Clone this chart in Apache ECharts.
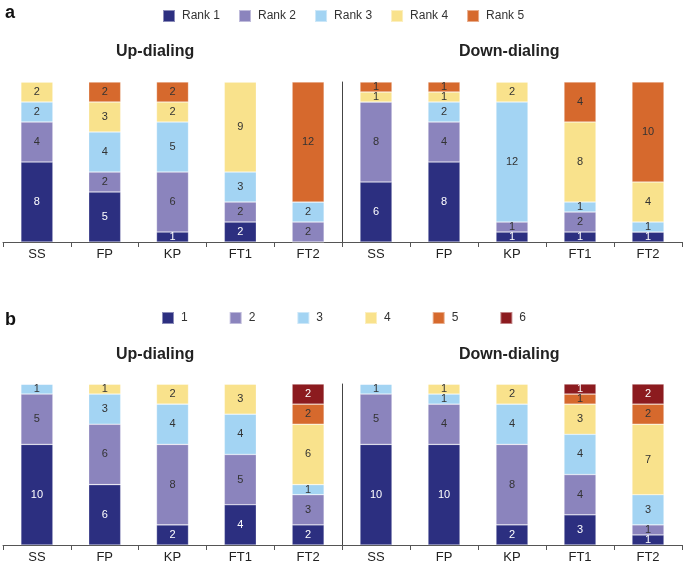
<!DOCTYPE html>
<html>
<head>
<meta charset="utf-8">
<script src="https://cdn.jsdelivr.net/npm/echarts@6/dist/echarts.min.js"></script>
<style>
  html, body { margin: 0; padding: 0; background: #fff; }
  #chart { width: 685px; height: 564px; }
</style>
</head>
<body>
<div id="chart"></div>
<script>
var categories = ['SS', 'FP', 'KP', 'FT1', 'FT2'];
var namesA = ['Rank 1', 'Rank 2', 'Rank 3', 'Rank 4', 'Rank 5'];
var namesB = ['1', '2', '3', '4', '5', '6'];
var colors = ['#2c2f80', '#8b84bd', '#a3d4f3', '#f9e28c', '#d6692d', '#8c1b1f'];
var labelColors = ['#fff', '#333', '#333', '#333', '#333', '#fff'];

// rows = rank, columns = categories
var upA = [
    [8, 5, 1, 2, 0],
    [4, 2, 6, 2, 2],
    [2, 4, 5, 3, 2],
    [2, 3, 2, 9, 0],
    [0, 2, 2, 0, 12]
];
var downA = [
    [6, 8, 1, 1, 1],
    [8, 4, 1, 2, 0],
    [0, 2, 12, 1, 1],
    [1, 1, 2, 8, 4],
    [1, 1, 0, 4, 10]
];
var upB = [
    [10, 6, 2, 4, 2],
    [5, 6, 8, 5, 3],
    [1, 3, 4, 4, 1],
    [0, 1, 2, 3, 6],
    [0, 0, 0, 0, 2],
    [0, 0, 0, 0, 2]
];
var downB = [
    [10, 10, 2, 3, 1],
    [5, 4, 8, 4, 1],
    [1, 1, 4, 4, 3],
    [0, 1, 2, 3, 7],
    [0, 0, 0, 1, 2],
    [0, 0, 0, 1, 2]
];

var font = "'Liberation Sans', Arial, Helvetica, sans-serif";

var grids = [
    { left: 3, width: 339, top: 82, height: 160 },
    { left: 342, width: 340, top: 82, height: 160 },
    { left: 3, width: 339, top: 384, height: 161 },
    { left: 342, width: 340, top: 384, height: 161 }
];

var xAxes = [], yAxes = [], series = [];
grids.forEach(function(g, i) {
    xAxes.push({
        type: 'category', gridIndex: i, data: categories,
        axisLine: { lineStyle: { color: '#555', width: 1 } },
        axisTick: { show: true, length: 5, lineStyle: { color: '#555', width: 1 } },
        axisLabel: { color: '#222', fontSize: 13, fontFamily: font, margin: 6 }
    });
    yAxes.push({
        type: 'value', gridIndex: i, min: 0, max: 16, interval: 4,
        axisLine: { show: i % 2 === 1, lineStyle: { color: '#444', width: 1 } },
        axisTick: { show: false }, axisLabel: { show: false },
        splitLine: { show: false }
    });
});

function addSeries(rows, names, gridIdx) {
    rows.forEach(function(vals, r) {
        series.push({
            name: names[r], type: 'bar', stack: 's' + gridIdx,
            xAxisIndex: gridIdx, yAxisIndex: gridIdx,
            barWidth: 32, data: vals,
            itemStyle: { color: colors[r], borderColor: 'rgba(255,255,255,0.45)', borderWidth: 0.6 },
            label: {
                show: true, position: 'inside', fontSize: 11, fontFamily: font,
                color: labelColors[r],
                formatter: function(p) { return p.value ? p.value : ''; }
            }
        });
    });
}
addSeries(upA, namesA, 0);
addSeries(downA, namesA, 1);
addSeries(upB, namesB, 2);
addSeries(downB, namesB, 3);

var titleStyle = { fontSize: 16, fontWeight: 'bold', color: '#222', fontFamily: font };

var chart = echarts.init(document.getElementById('chart'));
chart.setOption({
    animation: false,
    title: [
        { text: 'Up-dialing', left: 111, top: 39, textStyle: titleStyle },
        { text: 'Down-dialing', left: 454, top: 39, textStyle: titleStyle },
        { text: 'Up-dialing', left: 111, top: 342, textStyle: titleStyle },
        { text: 'Down-dialing', left: 454, top: 342, textStyle: titleStyle },
        { text: 'a', left: 0, top: -1, textStyle: { fontSize: 18, fontWeight: 'bold', color: '#111', fontFamily: font } },
        { text: 'b', left: 0, top: 306, textStyle: { fontSize: 18, fontWeight: 'bold', color: '#111', fontFamily: font } }
    ],
    legend: [
        {
            data: namesA, left: 157, top: 4, itemWidth: 12, itemHeight: 12, itemGap: 18,
            icon: 'rect',
            textStyle: { fontSize: 12, color: '#333', fontFamily: font, padding: [0, 0, 0, 2] }
        },
        {
            data: namesB, left: 156, top: 306, itemWidth: 12, itemHeight: 12, itemGap: 41,
            icon: 'rect',
            textStyle: { fontSize: 12, color: '#333', fontFamily: font, padding: [0, 0, 0, 2] }
        }
    ],
    grid: grids,
    xAxis: xAxes,
    yAxis: yAxes,
    series: series
});
</script>
</body>
</html>
